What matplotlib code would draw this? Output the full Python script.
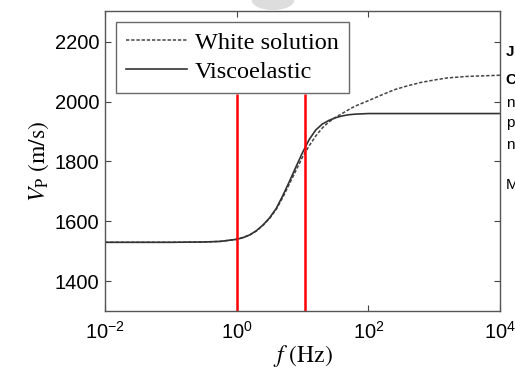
import matplotlib.pyplot as plt
import numpy as np
from matplotlib.patches import Ellipse

# log10 of frequency (Hz) at which the curves were read
log_f = [-2.0, -1.0, -0.5, -0.25, 0.0, 0.1, 0.2, 0.3, 0.4, 0.5, 0.6, 0.7, 0.8,
         0.9, 1.0, 1.1, 1.2, 1.3, 1.4, 1.5, 1.6, 1.7, 1.8, 2.0, 2.2, 2.4, 2.6,
         2.8, 3.0, 3.2, 3.5, 4.0]
white = [1530, 1530, 1531, 1533, 1540, 1546, 1555, 1568, 1587, 1610, 1640, 1680,
         1725, 1770, 1815, 1852, 1885, 1912, 1932, 1947, 1960, 1973, 1985, 2003,
         2022, 2040, 2053, 2064, 2072, 2079, 2084, 2088]
visco = [1530, 1530, 1531, 1533, 1540, 1546, 1555, 1569, 1588, 1612, 1643, 1686,
         1733, 1782, 1830, 1873, 1905, 1925, 1937, 1946, 1952, 1956, 1958, 1960,
         1960, 1960, 1960, 1960, 1960, 1960, 1960, 1960]
red_f = [1.0, 11.0]
red_top = 2025

plt.rcParams['font.family'] = ['Liberation Sans', 'DejaVu Sans']
plt.rcParams['mathtext.fontset'] = 'stix'
plt.rcParams['axes.unicode_minus'] = False

freq = np.power(10.0, log_f)

fig = plt.figure(figsize=(5.15, 3.74), dpi=100)
ax = fig.add_axes([0.204, 0.168, 0.767, 0.803])

ax.plot(freq, white, ls=(0, (2.2, 1.2)), color='#444444', lw=1.1, label='White solution')
ax.plot(freq, visco, ls='-', color='#333333', lw=1.2, label='Viscoelastic')
ax.vlines(red_f, 1300, red_top, colors='#ff0000', lw=1.8)

ax.set_xscale('log')
ax.set_xlim(1e-2, 1e4)
ax.set_ylim(1300, 2303)
ax.set_xticks([1e-2, 1e0, 1e2, 1e4])
ax.minorticks_off()
ax.set_yticks([1400, 1600, 1800, 2000, 2200])
ax.tick_params(direction='in', top=True, right=True, labelsize=14.5, length=4,
               color='#444444', pad=4)
ax.tick_params(axis='x', pad=7)
for s in ax.spines.values():
    s.set_color('#555555')
    s.set_linewidth(1.0)

ax.set_xlabel(r'$f\ (\mathrm{Hz})$', fontsize=17, labelpad=0)
ax.set_ylabel(r'$V_{\mathrm{P}}\ (\mathrm{m/s})$', fontsize=17, labelpad=3)

leg = ax.legend(loc='upper left', prop={'family': 'Liberation Serif', 'size': 17.5},
                handlelength=2.5, handletextpad=0.35, borderpad=0.4, labelspacing=0.3,
                borderaxespad=0.0, fancybox=False, frameon=True,
                bbox_to_anchor=(0.028, 0.963))
leg.get_frame().set_edgecolor('#444444')
leg.get_frame().set_linewidth(1.0)

# cropped page text at the right edge
side = [('J', 0.86, 'bold'), ('C', 0.785, 'bold'), ('n', 0.725, 'normal'),
        ('p', 0.67, 'normal'), ('n', 0.613, 'normal'), ('M', 0.505, 'normal')]
for t, y, w in side:
    fig.text(0.982, y, t, fontsize=11, fontweight=w, va='center', ha='left')

fig.patches.append(Ellipse((0.53, 1.0), 0.08, 0.05, transform=fig.transFigure,
                           color='#dddddd', zorder=0))

fig.savefig('out.png', dpi=100)
